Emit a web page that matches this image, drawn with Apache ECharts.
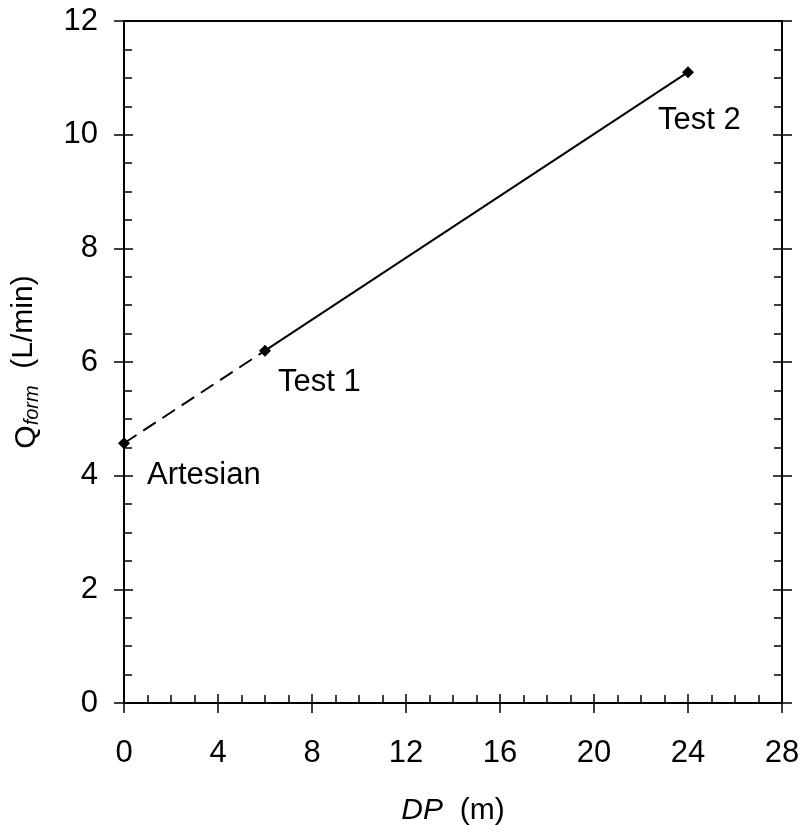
<!DOCTYPE html>
<html>
<head>
<meta charset="utf-8">
<script src="https://cdn.jsdelivr.net/npm/echarts@6/dist/echarts.min.js"></script>
<style>
html, body {margin: 0; padding: 0; background: #fff;}
#chart {width: 803px; height: 825px;}
</style>
</head>
<body>
<div id="chart"></div>
<script>
"use strict";
// data
var dp = [0, 6, 24];
var qForm = [4.57, 6.2, 11.1];
var pointNames = ["Artesian", "Test 1", "Test 2"];
var dashedPart = [0, 1];   // extrapolated to artesian flow
var solidPart = [1, 2];
var xRange = [0, 28, 4];
var yRange = [0, 12, 2];

var FONT = "Liberation Sans, Arial, sans-serif";

function pts(idx) {
    return idx.map(function (i) { return [dp[i], qForm[i]]; });
}

function axis(pos, mode, range, minorSplit) {
    // mode: "out" = outside major ticks, "in" = inside ticks + minor, "plain" = line only
    return {
        type: "value",
        position: pos,
        min: range[0], max: range[1], interval: range[2],
        splitLine: {show: false},
        axisLine: {show: true, onZero: false, lineStyle: {color: "#000", width: 2}},
        axisTick: {show: mode !== "plain", inside: mode === "in", length: mode === "in" ? 9 : 10,
            lineStyle: {color: "#000", width: 1.5}},
        minorTick: {show: mode === "in", splitNumber: minorSplit, length: 8,
            lineStyle: {color: "#000", width: 1.5}},
        axisLabel: {show: false, color: "#000", fontFamily: FONT, fontSize: 31}
    };
}

document.addEventListener("DOMContentLoaded", function () {
    var c = echarts.init(document.getElementById("chart"));

    var xb = axis("bottom", "out", xRange, 4);
    xb.axisLabel.show = true;
    xb.axisLabel.margin = 35;
    xb.name = "{i|DP}  (m)";
    xb.nameLocation = "middle";
    xb.nameGap = 93;
    xb.nameTextStyle = {color: "#000", fontFamily: FONT, fontSize: 30,
        rich: {i: {fontStyle: "italic", fontFamily: FONT, fontSize: 30, color: "#000"}}};

    var yl = axis("left", "out", yRange, 4);
    yl.axisLabel.show = true;
    yl.axisLabel.margin = 26;
    yl.name = "{q|Q}{s|form}  (L/min)";
    yl.nameLocation = "middle";
    yl.nameGap = 82;
    yl.nameTextStyle = {color: "#000", fontFamily: FONT, fontSize: 30,
        rich: {
            q: {fontFamily: FONT, fontSize: 30, color: "#000", verticalAlign: "bottom", lineHeight: 36},
            s: {fontFamily: FONT, fontSize: 20, fontStyle: "italic", color: "#000", verticalAlign: "bottom", lineHeight: 26}
        }};

    var opt = {
        animation: false,
        backgroundColor: "#fff",
        grid: {left: 124, top: 21, right: 21, bottom: 122, containLabel: false, outerBoundsMode: "none"},
        xAxis: [xb, axis("bottom", "in", xRange, 4), axis("top", "plain", xRange, 4)],
        yAxis: [yl, axis("left", "in", yRange, 4), axis("right", "out", yRange, 4), axis("right", "in", yRange, 4)],
        series: [{
            type: "line",
            data: pts(dashedPart),
            symbol: "none",
            lineStyle: {color: "#000", width: 2, type: [15, 8]}
        }, {
            type: "line",
            data: pts(solidPart),
            symbol: "none",
            lineStyle: {color: "#000", width: 2}
        }, {
            type: "scatter",
            symbol: "diamond",
            symbolSize: 12,
            itemStyle: {color: "#000", opacity: 1},
            data: dp.map(function (x, i) {
                var off = [[12, 32], [2, 32], [-41, 48]][i];
                return {
                    name: pointNames[i],
                    value: [x, qForm[i]],
                    label: {show: true, position: "right", offset: off, formatter: "{b}",
                        color: "#000", opacity: 1, fontFamily: FONT, fontSize: 31}
                };
            })
        }]
    };
    c.setOption(opt);
});
</script>
</body>
</html>
